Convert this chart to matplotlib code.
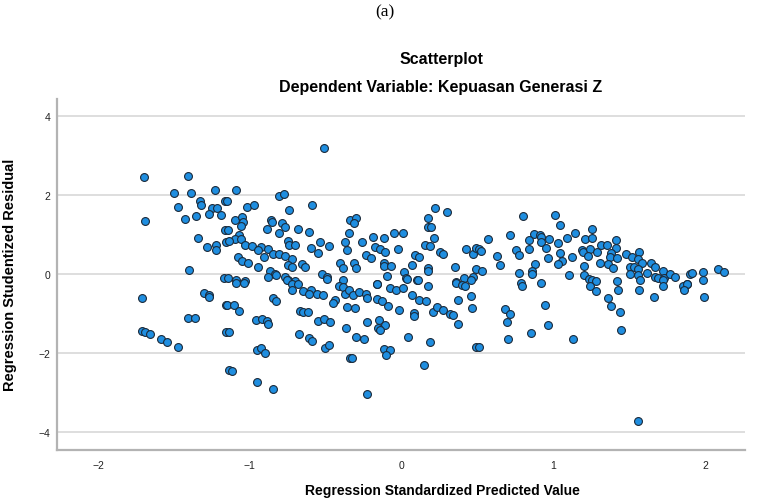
import matplotlib
matplotlib.use('Agg')
import matplotlib.pyplot as plt
import numpy as np

#======================================================================
# Dados ===============================================================
#======================================================================

pred = [-1.695, -1.405, -1.50, -1.39, -1.23, -1.33, -1.32, -1.47, -1.25, -1.215,
        -1.27, -1.19, -1.43, -1.355, -1.69, -1.165, -1.165, -1.34, -1.28, -1.22,
        -1.22, -1.16, -1.40, -1.17,
        -1.71, -1.30, -1.27, -1.27, -1.16, -1.41, -1.36, -1.71, -1.69, -1.66,
        -1.585, -1.545, -1.47, -1.16,
        -0.515, -1.09, -0.81, -0.775, -1.15, -1.02, -0.97, -0.74, -0.59, -1.10,
        -1.05, -1.045, -1.06, -0.86, -0.855, -0.89, -0.79, -0.77, -0.81, -0.68,
        -0.61, -1.145, -1.07, -1.10, -1.06, -1.14, -1.03, -0.985, -0.93, -0.88,
        -0.945, -0.85, -0.81, -0.77, -0.75, -0.745, -0.705, -0.595, -0.54, -0.48,
        -0.55, -0.375, -0.36, -0.35, -0.34, -0.905, -1.08, -1.05, -1.01, -0.945,
        -0.72, -0.75, -0.725, -0.66, -0.64, -0.87, -0.835, -0.405, -0.385, -1.145,
        -1.09, -1.035, -0.88, -0.83, -0.77, -0.75, -0.70, -0.525, -0.49, -0.385,
        -1.09, -1.04, -0.755, -0.72, -0.68, -0.72, -0.65, -0.60, -0.61, -0.56,
        -0.52, -0.49, -0.41, -0.385, -0.375, -0.35, -0.44, -0.45, -0.36, -0.845,
        -0.83, -1.15, -1.105, -1.07, -0.96, -0.92, -0.89, -0.88, -0.67, -0.65,
        -0.62, -0.55, -0.51, -0.47, -0.37, -1.14, -0.675, -0.61, -0.59, -0.505,
        -0.48, -0.95, -0.925, -0.90, -0.34, -1.135, -1.12, -0.955, -0.85,
        0.22, 0.30, -0.30, -0.315, 0.17, 0.17, 0.19, 0.21, -0.05, 0.01,
        -0.19, -0.12, -0.26, -0.175, -0.145, -0.11, -0.025, 0.15, 0.185, 0.25,
        0.27, 0.42, 0.47, 0.49, -0.235, -0.20, 0.09, 0.115, 0.07, -0.12,
        -0.115, -0.07, -0.315, -0.30, 0.17, 0.17, 0.35, 0.49, 0.015, -0.10,
        0.03, 0.10, -0.16, 0.36, 0.41, 0.47, 0.455,
        -0.32, -0.28, -0.235, -0.23, -0.16, -0.075, -0.04, 0.005, 0.035, 0.105,
        0.175, 0.065, -0.16, -0.13, -0.09, -0.305, -0.015, 0.115, 0.16, 0.08,
        0.08, 0.205, 0.235, 0.27, 0.32, 0.34, 0.37, 0.37, 0.355, 0.395,
        0.415, 0.455, 0.46, -0.23, -0.15, -0.11, -0.155, -0.14, -0.30, -0.25,
        0.04, 0.185, -0.12, -0.075, -0.105, -0.33, 0.49, 0.145, -0.23,
        0.80, 1.01, 1.04, 1.25, 0.57, 0.71, 0.87, 0.91, 0.92, 0.97,
        1.085, 1.14, 1.205, 1.25, 0.84, 0.92, 1.03, 0.95, 0.75, 0.835,
        0.51, 0.525, 0.77, 0.63, 1.04, 1.185, 1.195, 1.24, 1.225, 1.285,
        1.315, 0.965, 1.12, 1.055, 1.03, 0.65, 0.88, 1.20, 1.305, 0.53,
        0.86, 0.855, 0.77, 1.10, 1.20, 1.23, 1.255, 1.28, 0.92, 0.785,
        0.795, 1.24, 1.28, 0.94, 0.68, 0.71, 0.695, 0.965, 0.85, 0.70,
        1.13, 0.51,
        1.41, 1.35, 1.41, 1.38, 1.37, 1.415, 1.475, 1.515, 1.565, 1.555,
        1.58, 1.36, 1.39, 1.64, 1.67, 1.50, 1.53, 1.555, 1.505, 1.555,
        1.615, 1.67, 1.685, 1.72, 1.725, 1.765, 1.80, 1.895, 1.91, 1.985,
        2.08, 2.12, 1.42, 1.57, 1.72, 1.88, 1.985,
        1.72, 1.85, 1.88, 1.86, 1.425, 1.56, 1.36, 1.66, 1.99, 1.38,
        1.44, 1.445, 1.555]

resid = [2.45, 2.48, 2.04, 2.03, 2.12, 1.83, 1.75, 1.68, 1.65, 1.66,
         1.51, 1.49, 1.38, 1.47, 1.34, 1.85, 1.11, 0.90, 0.68, 0.72,
         0.61, 0.80, 0.09, -0.11,
         -0.61, -0.48, -0.53, -0.60, -0.78, -1.12, -1.11, -1.45, -1.48, -1.52,
         -1.66, -1.73, -1.86, -1.48,
         3.19, 2.11, 1.96, 2.02, 1.85, 1.68, 1.74, 1.61, 1.75, 1.37,
         1.43, 1.32, 1.20, 1.37, 1.30, 1.14, 1.29, 1.18, 1.02, 1.13,
         1.05, 1.10, 0.97, 0.89, 0.87, 0.82, 0.72, 0.71, 0.68, 0.62,
         0.59, 0.50, 0.49, 0.46, 0.83, 0.72, 0.72, 0.66, 0.80, 0.69,
         0.52, 0.80, 0.59, 1.02, 1.35, 0.42, 0.41, 0.32, 0.26, 0.18,
         0.38, 0.23, 0.18, 0.25, 0.18, 0.08, 0.00, 0.26, 0.15, -0.11,
         -0.16, -0.19, -0.09, -0.04, -0.08, -0.17, -0.19, 0.00, -0.08, -0.17,
         -0.23, -0.23, -0.16, -0.26, -0.25, -0.41, -0.44, -0.42, -0.52, -0.51,
         -0.54, -0.14, -0.30, -0.33, -0.51, -0.42, -0.66, -0.73, -0.84, -0.62,
         -0.69, -0.78, -0.79, -0.95, -1.18, -1.14, -1.20, -1.28, -0.94, -0.97,
         -0.98, -1.19, -1.15, -1.22, -1.37, -1.48, -1.53, -1.63, -1.70, -1.87,
         -1.81, -1.92, -1.87, -2.00, -2.13, -2.43, -2.47, -2.74, -2.92,
         1.66, 1.56, 1.42, 1.28, 1.40, 1.17, 1.17, 0.90, 1.04, 1.02,
         0.92, 0.91, 0.81, 0.67, 0.63, 0.56, 0.62, 0.73, 0.70, 0.56,
         0.49, 0.62, 0.51, 0.65, 0.48, 0.39, 0.48, 0.43, 0.21, 0.27,
         0.20, 0.20, 0.28, 0.15, 0.15, 0.07, 0.16, 0.11, 0.05, -0.07,
         -0.11, -0.15, -0.25, -0.21, -0.11, -0.08, -0.17,
         -0.55, -0.46, -0.52, -0.61, -0.27, -0.36, -0.41, -0.37, -0.14, -0.17,
         -0.30, -0.54, -0.64, -0.70, -0.82, -0.88, -0.91, -0.67, -0.70, -1.00,
         -1.07, -0.98, -0.84, -0.92, -1.01, -1.05, -1.26, -0.67, -0.23, -0.28,
         -0.31, -0.56, -0.86, -1.22, -1.18, -1.31, -1.37, -1.42, -1.59, -1.65,
         -1.59, -1.72, -1.91, -1.92, -2.05, -2.13, -1.85, -2.31, -3.05,
         1.45, 1.49, 1.24, 1.14, 0.88, 0.98, 1.01, 0.97, 0.94, 0.88,
         0.91, 1.02, 0.89, 0.90, 0.85, 0.80, 0.78, 0.66, 0.60, 0.62,
         0.63, 0.58, 0.48, 0.46, 0.53, 0.60, 0.55, 0.63, 0.46, 0.55,
         0.72, 0.40, 0.41, 0.32, 0.25, 0.21, 0.25, 0.19, 0.27, 0.08,
         0.08, 0.00, 0.02, -0.04, -0.04, -0.13, -0.16, -0.19, -0.23, -0.24,
         -0.31, -0.31, -0.44, -0.78, -0.89, -1.01, -1.22, -1.31, -1.49, -1.66,
         -1.65, -1.86,
         0.85, 0.73, 0.64, 0.52, 0.43, 0.40, 0.49, 0.43, 0.55, 0.38,
         0.26, 0.24, 0.14, 0.26, 0.16, 0.17, 0.18, 0.13, 0.00, -0.03,
         0.01, -0.08, -0.11, 0.07, -0.11, -0.01, -0.09, -0.02, 0.01, 0.04,
         0.12, 0.04, -0.18, -0.17, -0.17, -0.25, -0.16,
         -0.30, -0.30, -0.26, -0.40, -0.40, -0.41, -0.61, -0.60, -0.59, -0.82,
         -0.97, -1.43, -3.72]

x_ticks = [-2, -1, 0, 1, 2]
y_ticks = [-4, -2, 0, 2, 4]

titulo_topo = '(a)'
titulo = 'Scatterplot'
subtitulo = 'Dependent Variable: Kepuasan Generasi Z'
rotulo_x = 'Regression Standardized Predicted Value'
rotulo_y = 'Regression Studentized Residual'

#======================================================================
# Plot ================================================================
#======================================================================

plt.rcParams['font.family'] = ['Liberation Sans', 'DejaVu Sans']

fig = plt.figure(figsize = (7.67, 5.02), dpi = 100)
ax = fig.add_axes([0.0743, 0.1016, 0.897, 0.700])

for yv in y_ticks:
    ax.axhline(yv, color = '#d4d4d4', linewidth = 1.1, zorder = 1)

ax.scatter(pred, resid, s = 32, color = '#1f8ee0', edgecolors = '#1b2a3a', linewidths = 0.8, zorder = 3)

ax.set_xlim(-2.27, 2.26)
ax.set_ylim(-4.46, 4.43)
ax.set_xticks(x_ticks)
ax.set_yticks(y_ticks)
ax.tick_params(axis = 'both', length = 0, labelsize = 7.5, colors = '#222222')
ax.tick_params(axis = 'x', pad = 7)
ax.tick_params(axis = 'y', pad = 5)

for s in ['top', 'right']:
    ax.spines[s].set_visible(False)
for s in ['left', 'bottom']:
    ax.spines[s].set_color('#b3b3b3')
    ax.spines[s].set_linewidth(1.6)

# Rotulos dos eixos (o grafico original foi cortado a direita) ========
ax.set_xlabel(rotulo_x, fontsize = 10, fontweight = 'bold')
ax.xaxis.set_label_coords(0.56, -0.095)
ax.set_ylabel(rotulo_y, fontsize = 10.5, fontweight = 'bold')
ax.yaxis.set_label_coords(-0.058, 0.5)

fig.text(0.502, 0.975, titulo_topo, ha = 'center', va = 'center', fontsize = 12.5, family = ['Liberation Serif', 'DejaVu Serif'])
fig.text(0.575, 0.882, titulo, ha = 'center', va = 'center', fontsize = 11.5, fontweight = 'bold')
fig.text(0.575, 0.825, subtitulo, ha = 'center', va = 'center', fontsize = 11.5, fontweight = 'bold')

plt.savefig('out.png', dpi = 100)
